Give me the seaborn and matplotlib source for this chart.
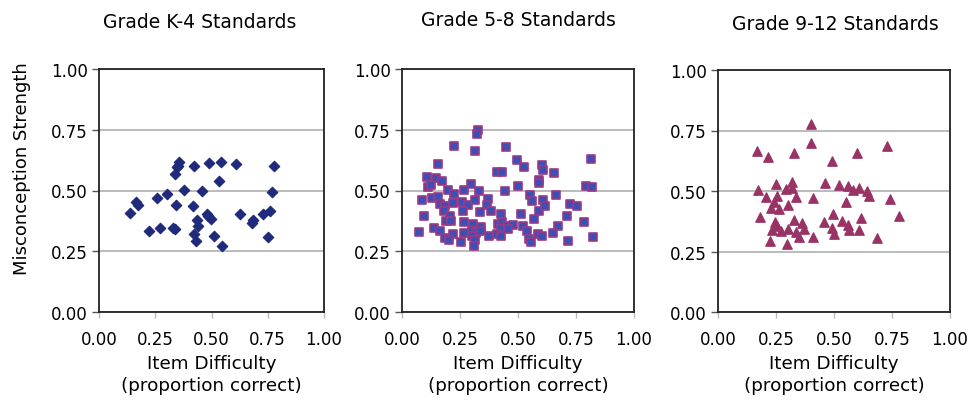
import matplotlib
matplotlib.use("Agg")
import matplotlib.pyplot as plt
import seaborn as sns
import pandas as pd

# values
k4_x = [0.357, 0.350, 0.345, 0.338, 0.424, 0.487, 0.544, 0.609, 0.779, 0.533,
        0.379, 0.459, 0.769, 0.304, 0.256, 0.166, 0.172, 0.139, 0.342, 0.419,
        0.479, 0.486, 0.498, 0.437, 0.441, 0.627, 0.686, 0.678, 0.727, 0.760,
        0.224, 0.273, 0.327, 0.338, 0.424, 0.430, 0.511, 0.545, 0.750]
k4_y = [0.619, 0.602, 0.597, 0.567, 0.601, 0.613, 0.619, 0.608, 0.600, 0.540,
        0.503, 0.499, 0.493, 0.486, 0.469, 0.451, 0.442, 0.407, 0.442, 0.435,
        0.403, 0.394, 0.383, 0.380, 0.353, 0.405, 0.380, 0.366, 0.405, 0.414,
        0.335, 0.346, 0.346, 0.341, 0.321, 0.291, 0.314, 0.270, 0.310]

g58_x = [0.329, 0.323, 0.223, 0.316, 0.450, 0.815, 0.157, 0.494, 0.527, 0.603,
         0.607, 0.654, 0.411, 0.432, 0.108, 0.147, 0.172, 0.592,
         0.114, 0.123, 0.299, 0.500, 0.591, 0.793, 0.818, 0.200, 0.226, 0.269,
         0.333, 0.444, 0.552, 0.559, 0.609, 0.664, 0.088, 0.131, 0.157, 0.164,
         0.185, 0.182, 0.221, 0.257, 0.286, 0.315, 0.264, 0.372, 0.365, 0.384,
         0.336, 0.427, 0.513, 0.592, 0.618, 0.724, 0.753, 0.710, 0.096, 0.207,
         0.188, 0.213, 0.267, 0.307, 0.341, 0.302, 0.320, 0.341, 0.412, 0.432,
         0.451, 0.477, 0.427, 0.459, 0.520, 0.537, 0.570, 0.671, 0.784, 0.073,
         0.138, 0.164, 0.221, 0.185, 0.204, 0.253, 0.267, 0.302, 0.313, 0.310,
         0.376, 0.408, 0.427, 0.547, 0.554, 0.588, 0.605, 0.650, 0.717, 0.822]
g58_y = [0.750, 0.733, 0.682, 0.663, 0.680, 0.631, 0.608, 0.626, 0.597, 0.605,
         0.584, 0.571, 0.577, 0.577, 0.557, 0.553, 0.539, 0.545,
         0.513, 0.523, 0.528, 0.519, 0.530, 0.519, 0.516, 0.502, 0.486, 0.502,
         0.499, 0.497, 0.483, 0.456, 0.462, 0.483, 0.462, 0.469, 0.472, 0.444,
         0.437, 0.417, 0.449, 0.454, 0.440, 0.462, 0.417, 0.465, 0.440, 0.417,
         0.410, 0.403, 0.403, 0.417, 0.435, 0.444, 0.437, 0.396, 0.396, 0.396,
         0.376, 0.376, 0.372, 0.362, 0.348, 0.335, 0.327, 0.335, 0.362, 0.369,
         0.355, 0.359, 0.341, 0.341, 0.355, 0.335, 0.383, 0.353, 0.369, 0.330,
         0.344, 0.335, 0.321, 0.303, 0.296, 0.287, 0.325, 0.314, 0.296, 0.273,
         0.311, 0.321, 0.314, 0.300, 0.287, 0.321, 0.314, 0.325, 0.291, 0.310]

g912_x = [0.403, 0.403, 0.169, 0.216, 0.327, 0.598, 0.728, 0.491, 0.173, 0.208,
          0.248, 0.255, 0.291, 0.317, 0.320, 0.338, 0.241, 0.230, 0.262, 0.301,
          0.410, 0.460, 0.521, 0.561, 0.580, 0.607, 0.643, 0.653, 0.550, 0.741,
          0.179, 0.245, 0.255, 0.234, 0.270, 0.302, 0.327, 0.363, 0.337, 0.370,
          0.348, 0.226, 0.298, 0.410, 0.456, 0.496, 0.492, 0.499, 0.535, 0.561,
          0.564, 0.607, 0.617, 0.685, 0.782]
g912_y = [0.777, 0.698, 0.664, 0.640, 0.658, 0.658, 0.687, 0.626, 0.505, 0.477,
          0.528, 0.481, 0.508, 0.538, 0.512, 0.477, 0.454, 0.431, 0.424, 0.444,
          0.470, 0.533, 0.526, 0.522, 0.504, 0.512, 0.499, 0.481, 0.454, 0.465,
          0.393, 0.372, 0.355, 0.338, 0.335, 0.345, 0.379, 0.368, 0.331, 0.341,
          0.311, 0.293, 0.280, 0.311, 0.372, 0.406, 0.349, 0.322, 0.376, 0.359,
          0.338, 0.338, 0.390, 0.307, 0.395]

titles = ["Grade K-4 Standards", "Grade 5-8 Standards", "Grade 9-12 Standards"]
ticks = [0.0, 0.25, 0.5, 0.75, 1.0]
tick_labels = ["0.00", "0.25", "0.50", "0.75", "1.00"]

sns.set_style("white")
plt.rcParams["font.family"] = ["DejaVu Sans"]
plt.rcParams["text.color"] = "black"
plt.rcParams["axes.labelcolor"] = "black"
plt.rcParams["xtick.labelcolor"] = "black"
plt.rcParams["ytick.labelcolor"] = "black"

W, H = 974, 402
fig = plt.figure(figsize=(W / 100, H / 100), dpi=100)

# panel boxes in pixels: left, top, right, bottom
boxes = [(99, 70, 324, 313), (402, 70, 634, 313), (718, 71, 950, 313)]
title_pos = [(200, 22), (518, 20), (835, 24)]
panels = [
    (pd.DataFrame({"x": k4_x, "y": k4_y}), "D", "#1f2a7c", "#1f2a7c", 28, 0.9),
    (pd.DataFrame({"x": g58_x, "y": g58_y}), "s", "#3b4fb5", "#9a3a86", 28, 1.2),
    (pd.DataFrame({"x": g912_x, "y": g912_y}), "^", "#993366", "#993366", 46, 0.9),
]

for i, (df, mk, fc, ec, size, lw) in enumerate(panels):
    l, t, r, b = boxes[i]
    ax = fig.add_axes([l / W, (H - b) / H, (r - l) / W, (b - t) / H])
    ax.set_axisbelow(True)
    ax.yaxis.grid(True, color="#a8a8a8", linewidth=1.1)
    sns.scatterplot(data=df, x="x", y="y", marker=mk, color=fc, edgecolor=ec,
                    linewidth=lw, s=size, ax=ax, legend=False, zorder=3)
    ax.set_xlim(0, 1)
    ax.set_ylim(0, 1)
    ax.set_xticks(ticks)
    ax.set_xticklabels(tick_labels)
    ax.set_yticks(ticks)
    ax.set_yticklabels(tick_labels)
    for sp in ax.spines.values():
        sp.set_color("#222222")
        sp.set_linewidth(1.3)
    ax.tick_params(axis="y", direction="out", length=5, width=1, color="#555555",
                   labelsize=12, pad=3, left=True)
    ax.tick_params(axis="x", direction="out", length=4, width=1, color="#bbbbbb",
                   labelsize=12, pad=9, bottom=True)
    ax.set_xlabel("Item Difficulty\n(proportion correct)", fontsize=13.2,
                  labelpad=4, linespacing=1.3)
    ax.set_ylabel("")
    tx, ty = title_pos[i]
    fig.text(tx / W, 1 - ty / H, titles[i], ha="center", va="center", fontsize=13.5)

fig.text(22 / W, 1 - 169 / H, "Misconception Strength", rotation=90,
         ha="center", va="center", fontsize=13)

fig.savefig("out.png", dpi=100)
